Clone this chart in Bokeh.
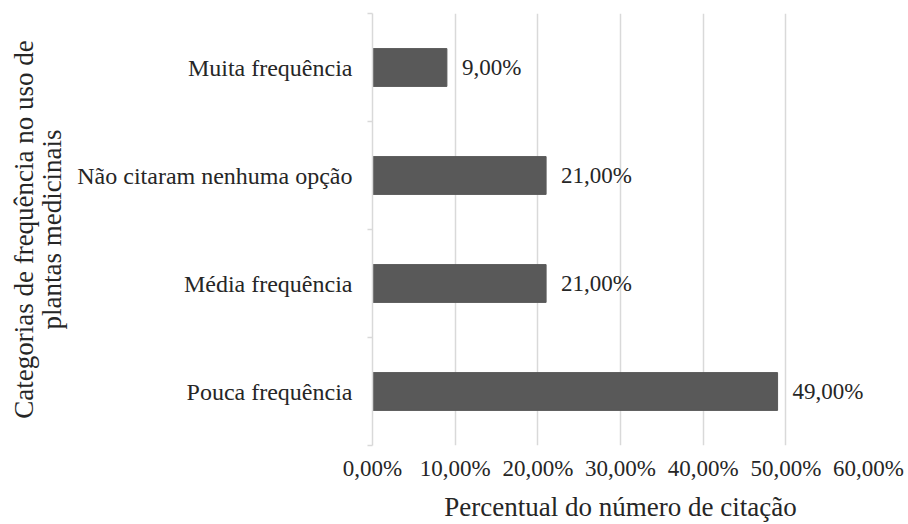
from bokeh.plotting import figure
from bokeh.models import ColumnDataSource, Range1d, LinearAxis, FixedTicker
from bokeh.core.properties import value
from bokeh.embed import file_html
from bokeh.resources import INLINE

# Frequency categories, listed bottom to top
categories = ["Pouca frequência", "Média frequência",
              "Não citaram nenhuma opção", "Muita frequência"]
percentages = [49.0, 21.0, 21.0, 9.0]

x_ticks = [0, 10, 20, 30, 40, 50, 60]
x_tick_labels = ["0,00%", "10,00%", "20,00%", "30,00%", "40,00%", "50,00%", "60,00%"]

FONT = "'Liberation Serif'"
TEXT = "#262626"
GRID = "#d9d9d9"
BAR = "#595959"

# each category occupies one unit band; bars sit at the band centres
centres = [i + 0.5 for i in range(len(categories))]
bar_labels = [f"{v:.2f}".replace(".", ",") + "%" for v in percentages]
src = ColumnDataSource(dict(y=centres, val=percentages, lbl=bar_labels))

p = figure(width=908, height=524, output_backend="svg", toolbar_location=None,
           x_range=Range1d(0, 60), y_range=Range1d(0, len(categories)),
           y_axis_type=None, min_border_left=372, min_border_right=40,
           min_border_top=13, min_border_bottom=78)
p.outline_line_color = None
p.background_fill_color = "white"
p.border_fill_color = "white"

# Left axis line with ticks on the category boundaries (no labels)
bounds = list(range(len(categories) + 1))
edge_axis = LinearAxis(ticker=FixedTicker(ticks=bounds))
edge_axis.major_label_overrides = {b: "" for b in bounds}
edge_axis.major_label_text_color = None
edge_axis.axis_line_color = GRID
edge_axis.axis_line_width = 1.5
edge_axis.major_tick_line_color = GRID
edge_axis.major_tick_line_width = 1.5
edge_axis.major_tick_in = 0
edge_axis.major_tick_out = 5
edge_axis.minor_tick_line_color = None
edge_axis.major_label_standoff = 0
p.add_layout(edge_axis, "left")

# Category names at the band centres
cat_axis = LinearAxis(ticker=FixedTicker(ticks=centres))
cat_axis.major_label_overrides = {c: name for c, name in zip(centres, categories)}
cat_axis.axis_line_color = None
cat_axis.major_tick_line_color = None
cat_axis.minor_tick_line_color = None
cat_axis.major_label_text_font = FONT
cat_axis.major_label_text_font_size = "24px"
cat_axis.major_label_text_color = TEXT
cat_axis.major_label_standoff = 9
cat_axis.axis_label = "Categorias de frequência no uso de\nplantas medicinais"
cat_axis.axis_label_text_font = FONT
cat_axis.axis_label_text_font_size = "27px"
cat_axis.axis_label_text_font_style = "normal"
cat_axis.axis_label_text_color = TEXT
cat_axis.axis_label_text_line_height = 0.95
cat_axis.axis_label_standoff = 7
p.add_layout(cat_axis, "left")

# Percent axis
xa = p.xaxis[0]
xa.ticker = FixedTicker(ticks=x_ticks)
xa.major_label_overrides = {t: s for t, s in zip(x_ticks, x_tick_labels)}
xa.axis_line_color = None
xa.major_tick_line_color = None
xa.minor_tick_line_color = None
xa.major_label_text_font = FONT
xa.major_label_text_font_size = "23px"
xa.major_label_text_color = TEXT
xa.major_label_standoff = 4
xa.axis_label = "Percentual do número de citação"
xa.axis_label_text_font = FONT
xa.axis_label_text_font_size = "27px"
xa.axis_label_text_font_style = "normal"
xa.axis_label_text_color = TEXT
xa.axis_label_standoff = 8

p.xgrid.grid_line_color = GRID
p.xgrid.grid_line_width = 1.5
p.ygrid.grid_line_color = None

p.hbar(y="y", right="val", left=0, height=0.35, source=src,
       fill_color=BAR, line_color=BAR)

p.text(x="val", y="y", text="lbl", source=src,
       x_offset=15, text_baseline="middle", text_align="left",
       text_font=value(FONT), text_font_size="23px", text_color=TEXT)

open("out.html", "w").write(file_html(p, INLINE))
